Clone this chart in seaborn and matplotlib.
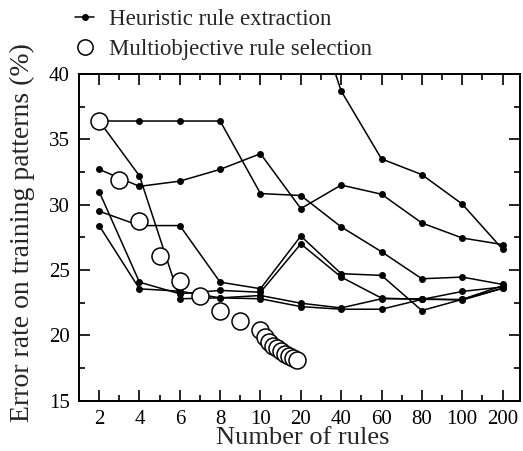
import numpy as np
import pandas as pd
import matplotlib
matplotlib.use("Agg")
import matplotlib.pyplot as plt
import seaborn as sns
from matplotlib.lines import Line2D
from matplotlib.ticker import FixedLocator, NullFormatter

# ---- data ----
rule_ticks = [2, 4, 6, 8, 10, 20, 40, 60, 80, 100, 200]
minor_ticks = [3, 5, 7, 9, 15, 30, 50, 70, 90, 150]

heur_A = [36.4, 36.4, 36.4, 36.4, 30.85, 30.7, 28.3, 26.4, 24.33, 24.46, 23.9]
heur_B = [32.7, 31.4, 31.8, 32.7, 33.9, 29.7, 31.5, 30.8, 28.6, 27.45, 26.95]
heur_C = [31.0, 24.07, 23.18, 23.44, 23.3, 27.0, 24.46, 22.85, 22.75, 23.36, 23.7]
heur_D = [29.5, 28.4, 28.4, 24.07, 23.57, 27.6, 24.72, 24.59, 21.9, 22.75, 23.8]
heur_E = [28.4, 23.56, 23.38, 22.87, 23.05, 22.46, 22.1, 22.8, 22.8, 22.7, 23.6]
heur_F = [36.4, 32.2, 22.8, 22.87, 22.8, 22.2, 22.0, 22.0, 22.75, 22.75, 23.6]
rules_G = [20, 40, 60, 80, 100, 200]
heur_G = [48.0, 38.7, 33.5, 32.3, 30.05, 26.6]

mo_rules = [2, 3, 4, 5, 6, 7, 8, 9, 10, 11, 12, 13, 14, 15, 16, 17, 18, 19]
mo_err = [36.4, 31.9, 28.75, 26.1, 24.15, 23.0, 21.85, 21.07, 20.4, 19.9,
          19.5, 19.2, 19.0, 18.8, 18.6, 18.45, 18.3, 18.15]

# ---- long-form table ----
rows = []
for name, vals in [("A", heur_A), ("B", heur_B), ("C", heur_C), ("D", heur_D),
                   ("E", heur_E), ("F", heur_F)]:
    for r, v in zip(rule_ticks, vals):
        rows.append((name, r, v))
for r, v in zip(rules_G, heur_G):
    rows.append(("G", r, v))
heur = pd.DataFrame(rows, columns=["series", "rules", "err"])
mo = pd.DataFrame({"rules": mo_rules, "err": mo_err})

# ---- piecewise axis scale (equal spacing between listed tick values) ----
_xs = np.array(rule_ticks, dtype=float)
_ix = np.arange(len(_xs), dtype=float)

def fwd(x):
    x = np.asarray(x, dtype=float)
    out = np.interp(x, _xs, _ix)
    out = np.where(x < _xs[0], (x - _xs[0]) / (_xs[1] - _xs[0]), out)
    out = np.where(x > _xs[-1], _ix[-1] + (x - _xs[-1]) / (_xs[-1] - _xs[-2]), out)
    return out

def inv(p):
    p = np.asarray(p, dtype=float)
    out = np.interp(p, _ix, _xs)
    out = np.where(p < 0, _xs[0] + p * (_xs[1] - _xs[0]), out)
    out = np.where(p > _ix[-1], _xs[-1] + (p - _ix[-1]) * (_xs[-1] - _xs[-2]), out)
    return out

sns.set_style("ticks")
plt.rcParams["font.family"] = ["Liberation Serif", "DejaVu Serif"]

fig = plt.figure(figsize=(5.23, 4.51), dpi=100)
ax = fig.add_axes([0.151, 0.1115, 0.843, 0.7245])
ax.set_xscale("function", functions=(fwd, inv))

sns.lineplot(data=heur, x="rules", y="err", units="series", estimator=None,
             color="black", linewidth=1.1, marker="o", markersize=5,
             markeredgewidth=0, sort=False, ax=ax, legend=False, zorder=2)
sns.scatterplot(data=mo, x="rules", y="err", s=150, facecolor="white",
                edgecolor="black", linewidth=1.1, ax=ax, zorder=3, legend=False)

ax.set_xlim(inv(-0.5), inv(10.43))
ax.set_ylim(15, 40)
ax.xaxis.set_major_locator(FixedLocator(rule_ticks))
ax.xaxis.set_minor_locator(FixedLocator(minor_ticks))
ax.set_xticklabels([str(v) for v in rule_ticks])
ax.xaxis.set_minor_formatter(NullFormatter())
ax.set_yticks([15, 20, 25, 30, 35, 40])
ax.yaxis.set_minor_locator(FixedLocator([17.5, 22.5, 27.5, 32.5, 37.5]))

ax.tick_params(which="both", direction="in", top=True, right=True, colors="black",
               width=1.2, labelsize=15, pad=6.5)
ax.tick_params(which="major", length=8)
ax.tick_params(which="minor", length=4)
for s in ax.spines.values():
    s.set_linewidth(1.4)
    s.set_color("black")

ax.set_xlabel("Number of rules", fontsize=19)
ax.set_ylabel("Error rate on training patterns (%)", fontsize=20)
ax.xaxis.set_label_coords(0.507, -0.08)
ax.yaxis.set_label_coords(-0.1, 0.516)

handles = [
    Line2D([], [], color="black", linewidth=1.1, marker="o", markersize=5,
           markeredgewidth=0, label="Heuristic rule extraction"),
    Line2D([], [], color="black", linestyle="none", marker="o", markersize=11,
           markerfacecolor="white", markeredgewidth=1.1,
           label="Multiobjective rule selection"),
]
fig.legend(handles=handles, loc="upper left", bbox_to_anchor=(0.1434, 0.98),
           frameon=False, fontsize=16.5, handlelength=0.85, handletextpad=0.65,
           labelspacing=0.37, borderaxespad=0.0, borderpad=0.0)

fig.savefig("out.png", dpi=100)
